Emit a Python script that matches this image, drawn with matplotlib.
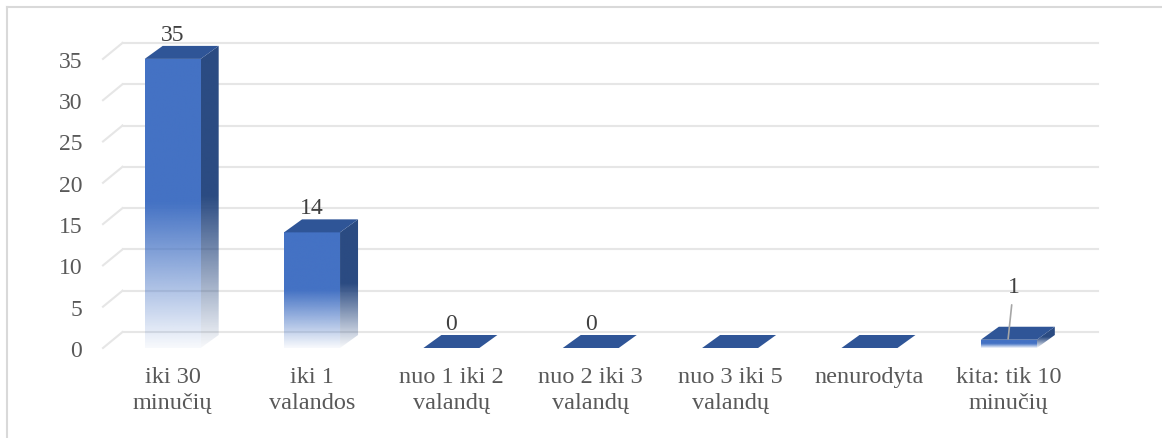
import numpy as np
import matplotlib
matplotlib.use("Agg")
import matplotlib.pyplot as plt
from matplotlib.patches import Polygon, Rectangle
from matplotlib.lines import Line2D

# data
categories = ["iki 30\nminučių", "iki 1\nvalandos", "nuo 1 iki 2\nvalandų",
              "nuo 2 iki 3\nvalandų", "nuo 3 iki 5\nvalandų", "nenurodyta",
              "kita: tik 10\nminučių"]
values = [35, 14, 0, 0, 0, 0, 1]
value_labels = ["35", "14", "0", "0", "", "", "1"]
y_ticks = [0, 5, 10, 15, 20, 25, 30, 35]

plt.rcParams['font.family'] = ['Liberation Serif', 'DejaVu Serif']

W, H = 1162, 439
fig = plt.figure(figsize=(W / 100, H / 100), dpi=100)

# axes placed so the "front" plane matches the reference
px_left, px_right = 103, 1078.5
px_zero, px_per_unit = 349, 8.26
px_top = 10
ax = fig.add_axes([px_left / W, (H - px_zero) / H,
                   (px_right - px_left) / W, (px_zero - px_top) / H])
ax.set_xlim(-0.5, 6.5)
ymax = (px_zero - px_top) / px_per_unit
ax.set_ylim(0, ymax)
px_per_x = (px_right - px_left) / 7

# depth offsets for the pseudo 3D look
grid_dx, grid_dy = 19.5 / px_per_x, 16 / px_per_unit
bar_dx, bar_dy = 18 / px_per_x, 13 / px_per_unit
bar_w = 56 / px_per_x

text_col = "#595959"
front_col = np.array([0x44, 0x72, 0xC4]) / 255
side_col = np.array([0x2B, 0x4B, 0x82]) / 255
top_col = "#2F5597"
grid_col = "#E6E6E6"

# gridlines: diagonal on the floor side + horizontal on back wall
for v in y_ticks:
    ax.plot([-0.5, -0.5 + grid_dx], [v, v + grid_dy], color=grid_col, lw=1.5,
            zorder=1, clip_on=False)
    ax.plot([-0.5 + grid_dx, 6.5 + grid_dx], [v + grid_dy, v + grid_dy],
            color=grid_col, lw=1.5, zorder=1, clip_on=False)


def gradient(color, n=256):
    t = np.linspace(1, 0, n)  # top row first
    alpha = np.clip(0.04 + 0.96 * (t / 0.5), 0, 1)
    img = np.zeros((n, 1, 4))
    img[:, 0, :3] = color
    img[:, 0, 3] = alpha
    return img


for i, v in enumerate(values):
    x0 = i - bar_w / 2
    x1 = i + bar_w / 2
    if v > 0:
        # front face with fade to white at the bottom
        front = Rectangle((x0, 0), bar_w, v, facecolor="none", edgecolor="none")
        ax.add_patch(front)
        im = ax.imshow(gradient(front_col), extent=[x0, x1, 0, v],
                       aspect="auto", zorder=3, interpolation="bilinear")
        im.set_clip_path(front)
        # side face
        side = Polygon([(x1, 0), (x1 + bar_dx, bar_dy), (x1 + bar_dx, v + bar_dy),
                        (x1, v)], closed=True, facecolor="none", edgecolor="none")
        ax.add_patch(side)
        im2 = ax.imshow(gradient(side_col), extent=[x1, x1 + bar_dx, 0, v + bar_dy],
                        aspect="auto", zorder=3, interpolation="bilinear")
        im2.set_clip_path(side)
    # top face
    top = Polygon([(x0, v), (x1, v), (x1 + bar_dx, v + bar_dy), (x0 + bar_dx, v + bar_dy)],
                  closed=True, facecolor=top_col, edgecolor="none", zorder=4)
    ax.add_patch(top)

ax.set_xlim(-0.5, 6.5)
ax.set_ylim(0, ymax)

# data labels
for i, (v, lab) in enumerate(zip(values, value_labels)):
    if not lab:
        continue
    if v == 1:
        ax.annotate(lab, xy=(i - 0.005, v + 0.1), xytext=(i + 0.035, v + 6.5),
                    ha="center", va="center", fontsize=17, color="#404040",
                    arrowprops=dict(arrowstyle="-", color="#A6A6A6", lw=1.2,
                                    shrinkA=4, shrinkB=0), zorder=6)
    else:
        ax.annotate(lab, xy=(i, v + bar_dy), xytext=(0, 8.5), textcoords="offset points",
                    ha="center", va="center", fontsize=17, color="#404040", zorder=6)

ax.set_yticks(y_ticks)
ax.set_yticklabels([str(t) for t in y_ticks])
ax.set_xticks(range(len(categories)))
ax.set_xticklabels(categories, linespacing=1.3)
ax.tick_params(axis="y", length=0, pad=15, labelsize=17, labelcolor=text_col)
ax.tick_params(axis="x", length=0, pad=13, labelsize=17.5, labelcolor=text_col)
for s in ax.spines.values():
    s.set_visible(False)
ax.patch.set_alpha(0)

# chart frame (top and left edges visible in reference)
fig.add_artist(Line2D([7 / W, 1], [1 - 8 / H, 1 - 8 / H], color="#D9D9D9", lw=1.5))
fig.add_artist(Line2D([7 / W, 7 / W], [0, 1 - 8 / H], color="#D9D9D9", lw=1.5))

fig.savefig("out.png", dpi=100)
